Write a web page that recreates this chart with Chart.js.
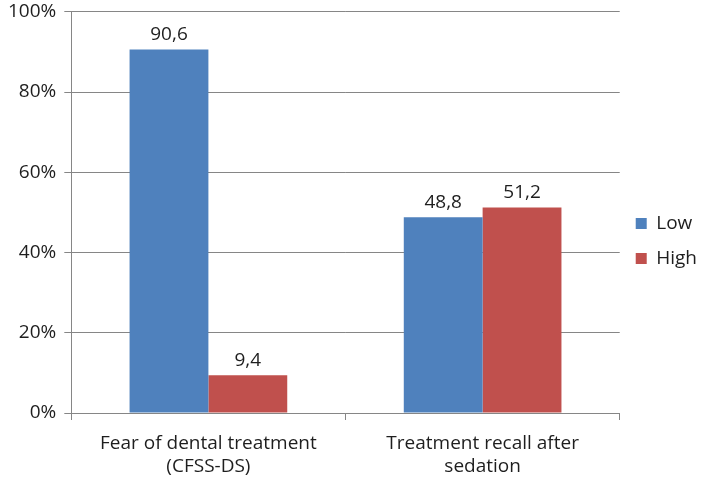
<!DOCTYPE html>
<html>
<head>
<meta charset="utf-8">
<script src="https://cdn.jsdelivr.net/npm/chart.js@4/dist/chart.umd.min.js"></script>
<style>
  html, body { margin: 0; padding: 0; background: #fff; }
  #wrap { width: 709px; height: 482px; }
</style>
</head>
<body>
<div id="wrap"><canvas id="barChart"></canvas></div>
<script>
const categories = [["Fear of dental treatment", "(CFSS-DS)"], ["Treatment recall after", "sedation"]];
const lowValues = [90.6, 48.8];
const highValues = [9.4, 51.2];
const yTicks = [0, 20, 40, 60, 80, 100];

const axisColor = "#868686";
const textColor = "#1e1e1e";
const fontFamily = "'Open Sans', 'Liberation Sans', sans-serif";
const fontSize = 19;

// value labels above the bars, decimal comma
const valueLabels = {
    id: "valueLabels",
    afterDatasetsDraw(chart) {
        const ctx = chart.ctx;
        ctx.save();
        ctx.font = fontSize + "px " + fontFamily;
        ctx.fillStyle = textColor;
        ctx.textAlign = "center";
        ctx.textBaseline = "bottom";
        chart.data.datasets.forEach((ds, i) => {
            chart.getDatasetMeta(i).data.forEach((bar, j) => {
                const txt = ds.data[j].toFixed(1).replace(".", ",");
                ctx.fillText(txt, bar.x, bar.y - 5);
            });
        });
        ctx.restore();
    }
};

const ctx = document.getElementById("barChart").getContext("2d");

new Chart(ctx, {
    type: "bar",
    data: {
        labels: categories,
        datasets: [
            {
                label: "Low",
                data: lowValues,
                backgroundColor: "#4F81BD",
                barPercentage: 1.0,
                categoryPercentage: 0.575
            },
            {
                label: "High",
                data: highValues,
                backgroundColor: "#C0504D",
                barPercentage: 1.0,
                categoryPercentage: 0.575
            }
        ]
    },
    options: {
        responsive: true,
        maintainAspectRatio: false,
        animation: false,
        layout: {
            padding: { top: 0, right: 2, left: 0, bottom: 0 }
        },
        plugins: {
            legend: {
                position: "right",
                labels: {
                    boxWidth: 11,
                    boxHeight: 11,
                    padding: 16,
                    color: textColor,
                    font: { family: fontFamily, size: fontSize }
                }
            },
            tooltip: { enabled: false }
        },
        scales: {
            x: {
                afterFit(scale) {
                    scale.height = 69;
                },
                grid: {
                    offset: true,
                    drawOnChartArea: false,
                    drawTicks: true,
                    tickLength: 7,
                    color: axisColor
                },
                border: { color: axisColor },
                ticks: {
                    color: textColor,
                    padding: 12,
                    font: { family: fontFamily, size: fontSize, lineHeight: 1.2 }
                }
            },
            y: {
                min: 0,
                max: 100,
                afterBuildTicks(axis) {
                    axis.ticks = yTicks.map(v => ({ value: v }));
                },
                grid: {
                    color: axisColor,
                    tickLength: 7
                },
                border: { color: axisColor },
                ticks: {
                    color: textColor,
                    padding: 8,
                    font: { family: fontFamily, size: fontSize, lineHeight: 0.4 },
                    callback: v => v + "%"
                }
            }
        }
    },
    plugins: [valueLabels]
});
</script>
</body>
</html>
